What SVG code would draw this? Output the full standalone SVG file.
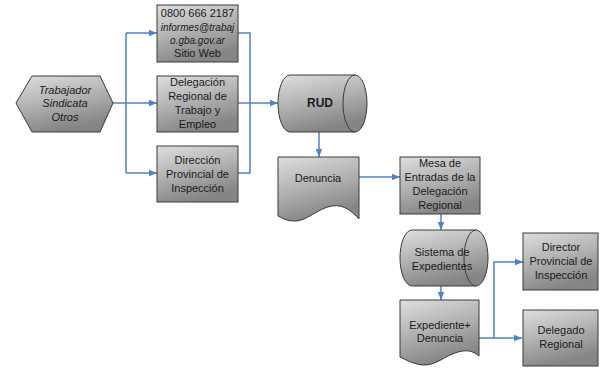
<svg xmlns="http://www.w3.org/2000/svg" width="600" height="369" viewBox="0 0 600 369">
<defs>
<linearGradient id="g" x1="0" y1="0" x2="0.35" y2="1">
<stop offset="0" stop-color="#dedede"/>
<stop offset="0.5" stop-color="#b4b4b4"/>
<stop offset="1" stop-color="#858585"/>
</linearGradient>
<marker id="ah" markerUnits="userSpaceOnUse" markerWidth="8" markerHeight="8" viewBox="0 0 8 8" refX="8" refY="4" orient="auto">
<path d="M0,0.8 L8,4 L0,7.2 Z" fill="#4f81c9"/>
</marker>
</defs>
<style>
.n{fill:url(#g);stroke:#3a3a3a;stroke-width:1}
.t{font-family:"Liberation Sans",Arial,sans-serif;font-size:11px;fill:#1a1a1a;text-anchor:middle}
.i{font-style:italic}
.c{fill:none;stroke:#4f81c9;stroke-width:1.5}
</style>
<rect width="600" height="369" fill="#ffffff"/>
<g id="connectors">
<path class="c" d="M113,103 H126"/>
<path class="c" d="M126,33 V173"/>
<path class="c" d="M126,33 H157" marker-end="url(#ah)"/>
<path class="c" d="M126,103 H157" marker-end="url(#ah)"/>
<path class="c" d="M126,173 H157" marker-end="url(#ah)"/>
<path class="c" d="M238,33 H250 V173 H238"/>
<path class="c" d="M238,103 H278" marker-end="url(#ah)"/>
<path class="c" d="M319,132 V157" marker-end="url(#ah)"/>
<path class="c" d="M359,177 H400" marker-end="url(#ah)"/>
<path class="c" d="M441,214 V230" marker-end="url(#ah)"/>
<path class="c" d="M441,286 V300" marker-end="url(#ah)"/>
<path class="c" d="M479,338 H494 V262 H523" marker-end="url(#ah)"/>
<path class="c" d="M494,338 H522" marker-end="url(#ah)"/>
</g>
<g id="hex">
<path class="n" d="M16,103 L32,76 L100,76 L113,103 L100,132 L32,132 Z"/>
<text class="t i" x="65" y="94">Trabajador</text>
<text class="t i" x="65" y="107">Sindicata</text>
<text class="t i" x="65" y="121">Otros</text>
</g>
<g id="contacto">
<rect class="n" x="157" y="5" width="81" height="57"/>
<text class="t" x="197.5" y="17">0800 666 2187</text>
<text class="t i" x="197.5" y="31" style="font-size:10px">informes@trabaj</text>
<text class="t i" x="197.5" y="44" style="font-size:10px">o.gba.gov.ar</text>
<text class="t" x="197.5" y="57">Sitio Web</text>
</g>
<g id="delegacion">
<rect class="n" x="157" y="76" width="81" height="56"/>
<text class="t" x="197.5" y="86">Delegación</text>
<text class="t" x="197.5" y="100">Regional de</text>
<text class="t" x="197.5" y="114">Trabajo y</text>
<text class="t" x="197.5" y="128">Empleo</text>
</g>
<g id="direccion">
<rect class="n" x="157" y="146" width="81" height="56"/>
<text class="t" x="197.5" y="164">Dirección</text>
<text class="t" x="197.5" y="178">Provincial de</text>
<text class="t" x="197.5" y="192">Inspección</text>
</g>
<g id="rud">
<path class="n" d="M290,75 H355 A12,28.5 0 0 1 355,132 H290 A12,28.5 0 0 1 290,75 Z"/>
<path fill="none" stroke="#3a3a3a" stroke-width="1" d="M355,75 A12,28.5 0 0 0 355,132"/>
<text class="t" x="320" y="107" style="font-weight:bold;font-size:12px">RUD</text>
</g>
<g id="denuncia">
<path class="n" d="M278,157 H359 V219 C352,212 345,204 332,206 C318,208 306,222 294,221 C287,221 282,218 278,216 Z"/>
<text class="t" x="318" y="182">Denuncia</text>
</g>
<g id="mesa">
<rect class="n" x="400" y="157" width="80" height="57"/>
<text class="t" x="440" y="167">Mesa de</text>
<text class="t" x="440" y="181">Entradas de la</text>
<text class="t" x="440" y="195">Delegación</text>
<text class="t" x="440" y="209">Regional</text>
</g>
<g id="sistema">
<path class="n" d="M412,230 H476 A12,28 0 0 1 476,286 H412 A12,28 0 0 1 412,230 Z"/>
<path fill="none" stroke="#3a3a3a" stroke-width="1" d="M476,230 A12,28 0 0 0 476,286"/>
<text class="t" x="442" y="256">Sistema de</text>
<text class="t" x="442" y="270">Expedientes</text>
</g>
<g id="expediente">
<path class="n" d="M400,300 H479 V356 C472,350 466,350 458,352 C444,356 436,366 422,365 C414,364 406,360 400,357 Z"/>
<text class="t" x="440" y="329">Expediente+</text>
<text class="t" x="440" y="342">Denuncia</text>
</g>
<g id="director">
<rect class="n" x="523" y="233" width="75" height="57"/>
<text class="t" x="561" y="251">Director</text>
<text class="t" x="561" y="265">Provincial de</text>
<text class="t" x="561" y="279">Inspección</text>
</g>
<g id="delegado">
<rect class="n" x="523" y="310" width="75" height="56"/>
<text class="t" x="561" y="334">Delegado</text>
<text class="t" x="561" y="348">Regional</text>
</g>
</svg>
